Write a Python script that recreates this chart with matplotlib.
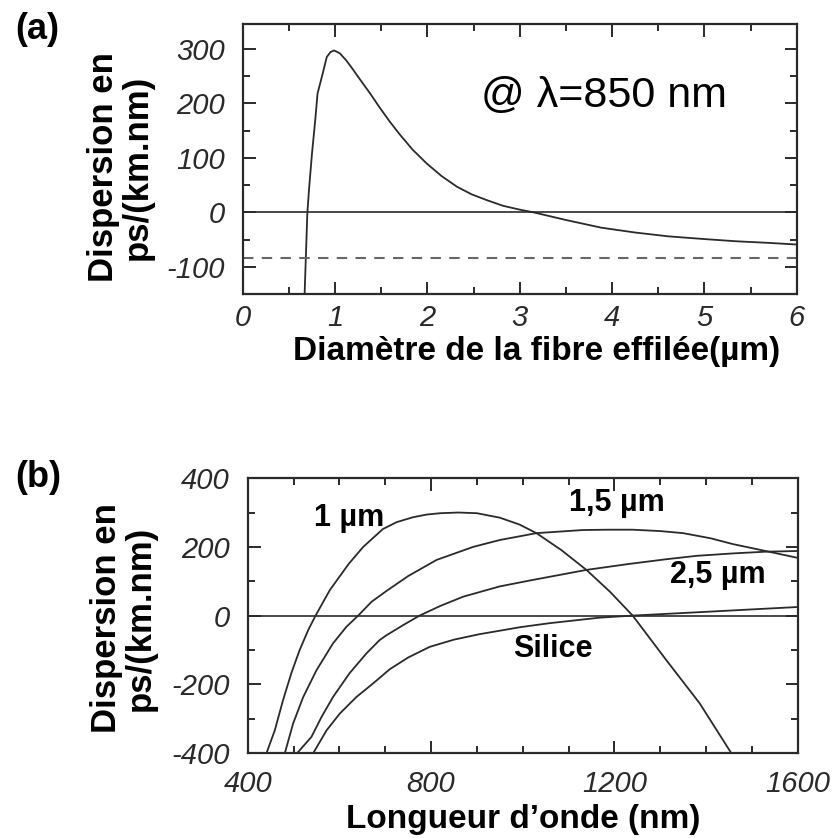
# -*- coding: utf-8 -*-

import matplotlib
matplotlib.use('Agg')
import matplotlib.pyplot as plt
from matplotlib.ticker import MultipleLocator

# Panel (a): dispersion at 850 nm versus taper diameter.
diam_a = [0.67, 0.685, 0.70, 0.72, 0.75, 0.785, 0.81, 0.865, 0.91, 0.95,
          0.99, 1.05, 1.12, 1.19, 1.265, 1.38, 1.48, 1.59, 1.70, 1.84,
          1.99, 2.15, 2.32, 2.48, 2.65, 2.82, 3.0, 3.15, 3.5, 3.88,
          4.25, 4.61, 5.0, 5.34, 5.7, 6.0]
disp_a = [-150, -75, 0, 47, 108, 169, 218, 254, 285, 294,
          297, 292, 279, 263, 245, 218, 193, 167, 143, 115,
          90, 67, 47, 33, 22, 12, 5, 0, -14, -28,
          -37, -44, -49, -53, -56, -59]
level_a = -83  # dashed reference level

# Panel (b): dispersion versus wavelength for several diameters.
wl_1um = [441, 459, 477, 495, 513, 532, 548, 579, 593, 620, 652, 695, 725,
          760, 790, 820, 860, 900, 950, 993, 1030, 1085, 1139, 1190, 1240,
          1313, 1386, 1455]
d_1um = [-400, -334, -246, -168, -101, -42, 0, 74, 100, 150, 200, 252, 272,
         286, 294, 298, 300, 298, 285, 265, 240, 190, 133, 70, 0,
         -129, -255, -400]

wl_15um = [481, 499, 521, 550, 586, 615, 641, 670, 703, 750, 812, 892, 950,
           1030, 1131, 1185, 1240, 1300, 1350, 1410, 1459, 1530, 1600]
d_15um = [-400, -314, -237, -159, -81, -33, 0, 40, 72, 115, 162, 200, 220,
          240, 249, 250, 250, 246, 240, 225, 208, 188, 168]

wl_25um = [508, 539, 561, 586, 622, 659, 688, 703, 740, 775, 820, 870, 950,
           1015, 1139, 1230, 1313, 1380, 1459, 1530, 1600]
d_25um = [-400, -353, -295, -237, -168, -110, -71, -57, -27, 0, 28, 55, 85,
          102, 133, 150, 164, 174, 181, 186, 188]

wl_sil = [543, 572, 601, 637, 673, 710, 750, 797, 850, 906, 950, 993, 1059,
          1168, 1240, 1386, 1500, 1600]
d_sil = [-400, -334, -285, -237, -198, -156, -122, -91, -70, -54, -44, -34, -22,
         -6, 0, 10, 18, 25]

curve_labels = ['1 µm', '1,5 µm', '2,5 µm', 'Silice']
label_pos = [(622, 284), (1205, 328), (1425, 119), (1065, -96)]

plt.rcParams['font.family'] = ['Liberation Sans', 'DejaVu Sans']
plt.rcParams['axes.unicode_minus'] = False

ink = '#2a2a2a'


def style_axes(ax, xmajor, xminor, ymajor, yminor, xpad, ypad):
    for sp in ax.spines.values():
        sp.set_linewidth(1.6)
        sp.set_color(ink)
    ax.xaxis.set_major_locator(MultipleLocator(xmajor))
    ax.xaxis.set_minor_locator(MultipleLocator(xminor))
    ax.yaxis.set_major_locator(MultipleLocator(ymajor))
    ax.yaxis.set_minor_locator(MultipleLocator(yminor))
    ax.tick_params(which='both', direction='in', top=True, right=True,
                   color=ink, width=1.4)
    ax.tick_params(which='major', length=9)
    ax.tick_params(which='minor', length=5)
    ax.tick_params(axis='x', pad=xpad)
    ax.tick_params(axis='y', pad=ypad)
    for lab in ax.get_xticklabels() + ax.get_yticklabels():
        lab.set_fontstyle('italic')
        lab.set_fontsize(21)
        lab.set_color(ink)


fig = plt.figure(figsize=(8.37, 8.38), dpi=100)
ax1 = fig.add_axes([0.290, 0.649, 0.662, 0.322])
ax2 = fig.add_axes([0.296, 0.1014, 0.657, 0.328])

# --- panel (a)
ax1.plot(diam_a, disp_a, color=ink, lw=1.3)
ax1.axhline(0, color=ink, lw=1.2)
ax1.axhline(level_a, color='#666666', lw=1.5, ls=(0, (5, 4)))
ax1.set_xlim(0, 6)
ax1.set_ylim(-150, 345)
style_axes(ax1, 1, 0.5, 100, 50, 7, 13)
ax1.text(3.91, 213, '@ λ=850 nm', fontsize=31, ha='center', va='center',
         color='black')
ax1.set_xlabel('Diamètre de la fibre effilée(µm)', fontsize=24,
               fontweight='bold', color='black', va='top')
ax1.xaxis.set_label_coords(0.53, -0.155)
ax1.set_ylabel('Dispersion en\nps/(km.nm)', fontsize=25, fontweight='bold',
               color='black', linespacing=1.05)
ax1.yaxis.set_label_coords(-0.16, 0.47)

# --- panel (b)
for wl, d in [(wl_1um, d_1um), (wl_15um, d_15um), (wl_25um, d_25um),
              (wl_sil, d_sil)]:
    ax2.plot(wl, d, color=ink, lw=1.3)
ax2.axhline(0, color=ink, lw=1.2)
ax2.set_xlim(400, 1600)
ax2.set_ylim(-400, 400)
style_axes(ax2, 400, 100, 200, 100, 12, 13)
for txt, (x, y) in zip(curve_labels, label_pos):
    ax2.text(x, y, txt, fontsize=22, fontweight='bold', ha='center',
             va='center', color='black')
ax2.set_xlabel("Longueur d’onde (nm)", fontsize=24, fontweight='bold',
               color='black', va='top')
ax2.xaxis.set_label_coords(0.5, -0.185)
ax2.set_ylabel('Dispersion en\nps/(km.nm)', fontsize=25, fontweight='bold',
               color='black', linespacing=1.05)
ax2.yaxis.set_label_coords(-0.165, 0.49)

fig.text(0.018, 0.965, '(a)', fontsize=26, fontweight='bold', va='center')
fig.text(0.018, 0.43, '(b)', fontsize=26, fontweight='bold', va='center')

fig.savefig('out.png', dpi=100)
